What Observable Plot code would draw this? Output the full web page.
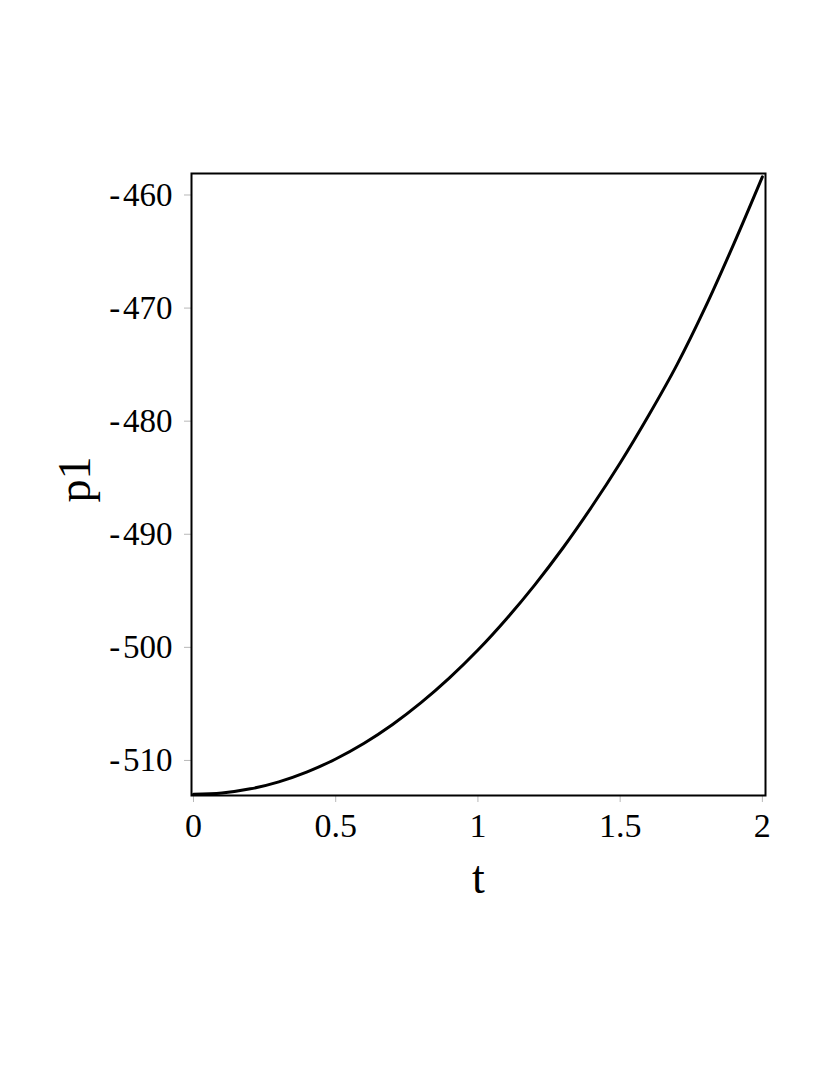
<!DOCTYPE html>
<html>
<head>
<meta charset="utf-8">
<script src="https://cdn.jsdelivr.net/npm/d3@7"></script>
<script src="https://cdn.jsdelivr.net/npm/@observablehq/plot@0.6"></script>
<style>
  html, body { margin: 0; padding: 0; background: #fff; }
  #chart svg { display: block; }
</style>
</head>
<body>
<div id="chart"></div>
<script>
const tValues = [0, 0.1, 0.2, 0.3, 0.4, 0.5, 0.6, 0.7, 0.8, 0.9, 1.0, 1.1, 1.2, 1.3, 1.4, 1.5, 1.6, 1.7, 1.8, 1.9, 2.0];
const p1Values = [-513.0, -512.88, -512.51, -511.89, -511.01, -509.87, -508.48, -506.82, -504.89, -502.70, -500.24, -497.49, -494.47, -491.17, -487.57, -483.70, -479.5, -475.0, -469.9, -464.3, -458.4];
const xTicks = [0, 0.5, 1, 1.5, 2];
const xTickLabels = ["0", "0.5", "1", "1.5", "2"];
const yTicks = [-510, -500, -490, -480, -470, -460];
const yTickLabels = ["-\u200A510", "-\u200A500", "-\u200A490", "-\u200A480", "-\u200A470", "-\u200A460"];
const xLabel = "t";
const yLabel = "p1";

const data = tValues.map((t, i) => ({t, p: p1Values[i]}));
const font = "'Liberation Serif', 'Times New Roman', serif";

const chart = Plot.plot({
  width: 830,
  height: 1075,
  marginLeft: 191,
  marginRight: 65,
  marginTop: 173,
  marginBottom: 280,
  style: {fontFamily: font, background: "#fff", color: "#000"},
  x: {domain: [-0.007, 2.011]},
  y: {domain: [-513.1, -458.1]},
  marks: [
    Plot.axisX({
      ticks: xTicks,
      tickFormat: (d) => xTickLabels[xTicks.indexOf(d)],
      tickSize: 7,
      stroke: "#b8b8b8",
      tickPadding: 10,
      fontSize: 34,
      fill: "#000",
      label: null
    }),
    Plot.axisY({
      ticks: yTicks,
      tickFormat: (d) => yTickLabels[yTicks.indexOf(d)],
      tickSize: 7,
      stroke: "#b8b8b8",
      tickPadding: 12,
      fontSize: 33,
      fill: "#000",
      label: null
    }),
    Plot.line(data, {x: "t", y: "p", stroke: "#000", strokeWidth: 3, curve: "catmull-rom"}),
    Plot.frame({stroke: "#000", strokeWidth: 2}),
    Plot.text([xLabel], {frameAnchor: "bottom", dy: 97, fontSize: 46, fill: "#000", fontFamily: font}),
    Plot.text([yLabel], {frameAnchor: "left", dx: -116, dy: 18, rotate: -90, fontSize: 46, fill: "#000", fontFamily: font})
  ]
});
document.getElementById("chart").appendChild(chart);
</script>
</body>
</html>
